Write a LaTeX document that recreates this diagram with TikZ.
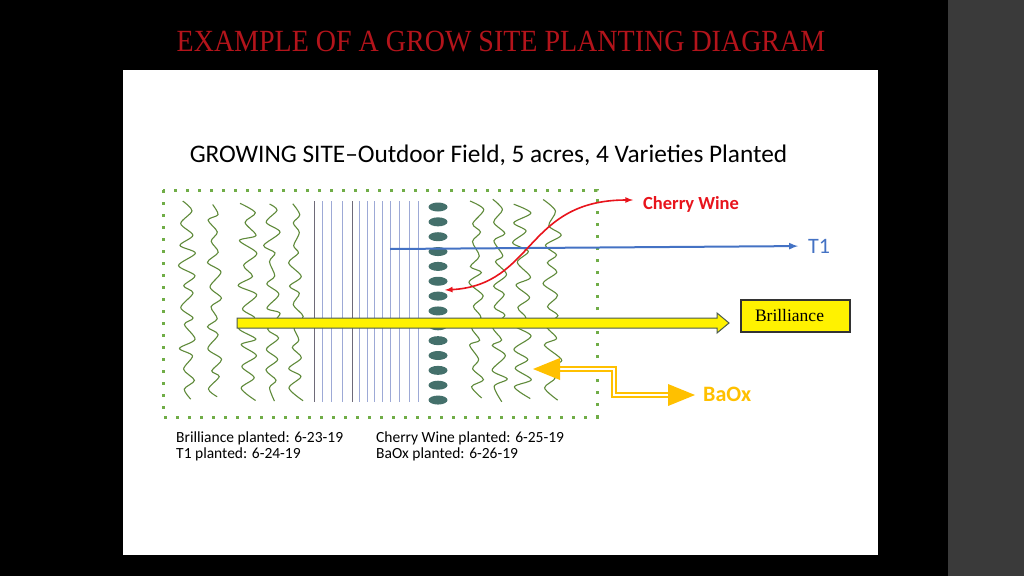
\documentclass[tikz,border=0pt]{standalone}
\usepackage{fontspec}
\setmainfont{Liberation Serif}
\newfontfamily\carlito{Carlito}
\usetikzlibrary{arrows.meta,calc}
\definecolor{titlered}{HTML}{B3141B}
\definecolor{stripgray}{HTML}{3A3A3A}
\definecolor{fieldgreen}{HTML}{70AD47}
\definecolor{leafgreen}{HTML}{5F8A3A}
\definecolor{rowgray}{HTML}{6E6A78}
\definecolor{rowblue}{HTML}{9DA9D6}
\definecolor{podteal}{HTML}{44706B}
\definecolor{tblue}{HTML}{4472C4}
\definecolor{cwred}{HTML}{E8141C}
\definecolor{baoxgold}{HTML}{FFC000}
\definecolor{arrowedge}{HTML}{4A5A50}
\tikzset{
  squiggle/.style={draw=leafgreen, line width=1.1pt},
  brbox/.style={draw=black!80, line width=1.1pt, fill=yellow, minimum width=109pt, minimum height=32pt, inner sep=0pt},
  fatarrow/.style={fill=yellow, draw=arrowedge, line width=1pt, line join=miter},
  baoxline/.style={draw=baoxgold, line width=2pt, double=white, double distance=2pt}
}
\begin{document}
\begin{tikzpicture}[x=1pt,y=-1pt]
  \fill[black] (0,0) rectangle (1024,576);
  \useasboundingbox (0,0) rectangle (1024,576);
  \fill[stripgray] (948,0) rectangle (1024,576);
  \fill[white] (123,70) rectangle (878,555);

  \node (title) at (501,42) {\scalebox{1}[1.1]{\fontsize{28}{30}\selectfont\color{titlered}EXAMPLE OF A GROW SITE PLANTING DIAGRAM}};
  \node (site) at (488.5,155) {\carlito\fontsize{25.3}{27}\selectfont GROWING SITE–Outdoor Field, 5 acres, 4 Varieties Planted};

  % field border
  \draw[fieldgreen, line width=3pt, dash pattern=on 3pt off 9pt] (163,190) rectangle (597,417);

  % plant rows
  \pgfmathsetseed{11}
  \foreach \sx/\amp in {188/9, 215/7, 248/9, 272/8, 296/7, 476/8, 499/8, 522/9, 552/9}
    \draw[squiggle] plot[smooth, domain=0:19, samples=20, variable=\k]
      ({\sx + (2*mod(\k,2)-1)*\amp*(0.3+0.8*rnd)}, {202+\k*10.4+3*rand});
  \foreach \lx/\lc in {314/rowgray, 322/rowblue, 331/rowblue, 342/rowblue, 352/rowgray, 359/rowblue,
                       367/rowblue, 374/rowblue, 382/rowblue, 390/rowblue, 399/rowblue, 409/rowblue, 418/rowblue}
    \draw[\lc, line width=1pt] (\lx,201) -- (\lx,402);
  \foreach \i in {0,...,13}
    \fill[podteal] (438,{207+\i*14.85}) ellipse (9.5 and 4.5);

  % labels
  \begin{scope}[every node/.style={anchor=west, inner sep=0pt}]
    \node (t1) at (808,246) {\carlito\fontsize{22}{24}\selectfont\color{tblue}T1};
    \node (cw) at (643,204) {\carlito\bfseries\fontsize{18.5}{20}\selectfont\color{cwred}Cherry Wine};
    \node (bx) at (703,394) {\carlito\bfseries\fontsize{22}{24}\selectfont\color{baoxgold}BaOx};
    \node[align=left, font=\carlito\fontsize{15.5}{16}\selectfont] (datesA) at (176,446) {Brilliance planted: 6-23-19\\T1 planted: 6-24-19};
    \node[align=left, font=\carlito\fontsize{15.5}{16}\selectfont] (datesB) at (376,446) {Cherry Wine planted: 6-25-19\\BaOx planted: 6-26-19};
  \end{scope}
  \node[brbox] (br) at (795.5,316) {\fontsize{17.5}{19}\selectfont\hspace*{-12pt}Brilliance};

  \coordinate (t1s) at (390,249);
  \coordinate (cwL) at (445,290);
  \coordinate (cwR) at (633,200);
  \coordinate (brs) at (237,323);
  \coordinate (brtip) at (729,323);
  \coordinate (bxL) at (533,369);
  \coordinate (bxR) at (695,395);

  \draw [-latex, tblue, line width=2pt, shorten >=10pt] (t1s) -- (t1.west);
  \draw [latex-latex, cwred, line width=1.6pt] (cwL) .. controls (535,285) and (525,200) .. (cwR);
  \filldraw[fatarrow] ($(brs)+(0,-5)$) -- ($(brtip)+(-12,-5)$) -- ($(brtip)+(-12,-10)$) -- (brtip)
    -- ($(brtip)+(-12,10)$) -- ($(brtip)+(-12,5)$) -- ($(brs)+(0,5)$) -- cycle;
  \draw[baoxline] ($(bxL)+(25,0)$) -| ($(bxL)!0.5!(bxR)$) |- ($(bxR)+(-25,0)$);
  \fill[baoxgold] (bxL) -- ++(27,-11) -- ++(0,22) -- cycle;
  \fill[baoxgold] (bxR) -- ++(-27,-11) -- ++(0,22) -- cycle;
\end{tikzpicture}
\end{document}
